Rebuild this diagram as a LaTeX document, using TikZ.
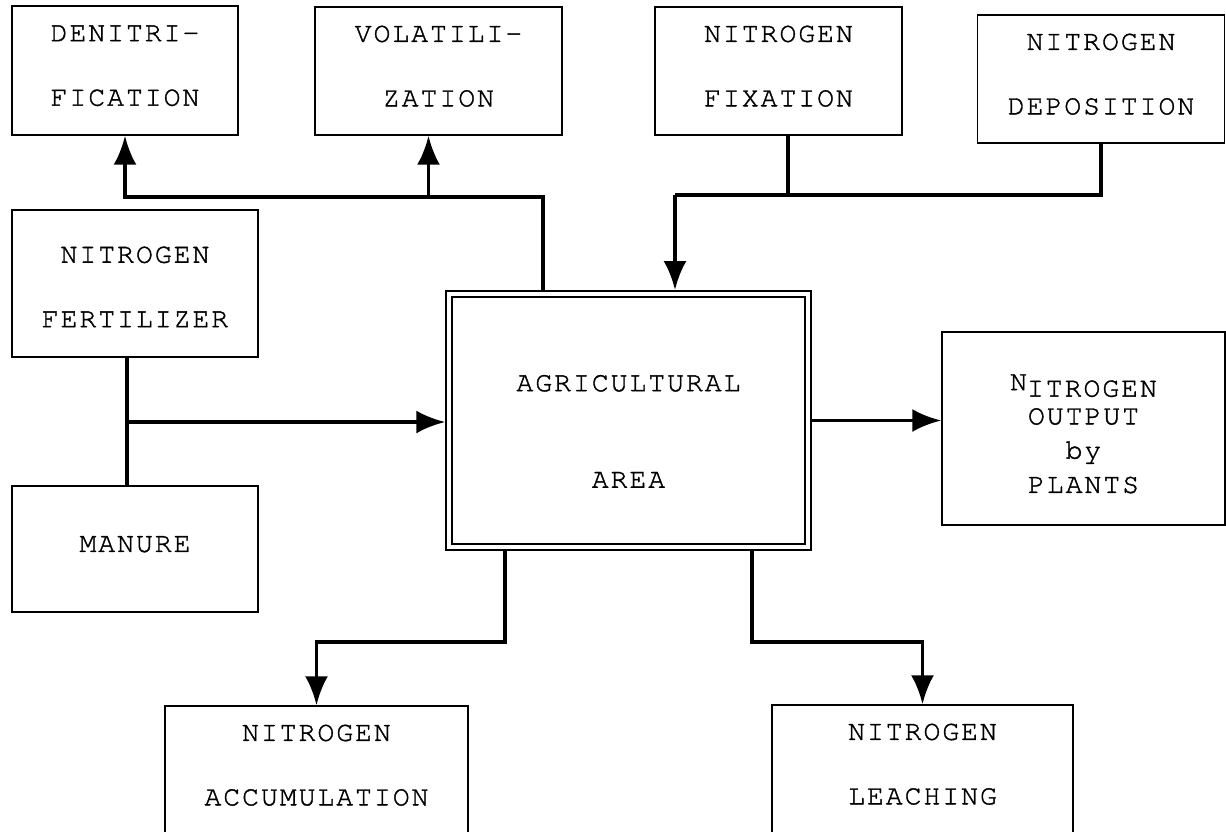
\documentclass[tikz,border=0pt]{standalone}
\usepackage{fontspec}
\newfontfamily\cursor{texgyrecursor-regular.otf}[LetterSpace=7,FakeBold=1.3]
\newcommand\tw[1]{\cursor\fontsize{16}{#1}\selectfont}
\usetikzlibrary{arrows,arrows.meta,positioning}

\begin{document}
\begin{tikzpicture}[x=0.02cm, y=-0.02cm,
        box/.style={draw, line width=0.03cm, inner sep=0pt, align=center, text depth=0.2cm,
                font=\tw{36.7}},
        link/.style={line width=0.075cm},
        flow/.style={link, -{Latex[length=0.58cm,width=0.46cm]}}]
                \useasboundingbox (0,0) rectangle (1226,831);
                % boxes along the top
                \node [box, minimum width=4.52cm, minimum height=2.58cm] (denit) at (125,70.5) {DENITRI-\\FICATION};
                \node [box, minimum width=4.94cm, minimum height=2.56cm] (volat) at (438.5,71) {VOLATILI-\\ZATION};
                \node [box, minimum width=4.94cm, minimum height=2.56cm] (fixat) at (778.5,71) {NITROGEN\\FIXATION};
                \node [box, minimum width=4.94cm, minimum height=2.56cm] (depos) at (1101,79) {NITROGEN\\DEPOSITION};
                % inputs on the left
                \node [box, minimum width=4.92cm, minimum height=2.94cm, text depth=0pt] (fert) at (135,283.5)
                        {\rule{0pt}{0.46cm}NITROGEN\\FERTILIZER};
                \node [box, minimum width=4.92cm, minimum height=2.52cm] (manure) at (135,549) {MANURE};
                % the area itself
                \node [box, double, double distance=0.09cm, outer sep=0.075cm, text depth=0pt,
                        minimum width=7.18cm, minimum height=5.07cm, font=\tw{55}] (area) at (628.5,420.5)
                        {\rule{0pt}{0.76cm}AGRICULTURAL\\AREA};
                \node [box, minimum width=5.66cm, minimum height=3.86cm, text depth=0pt,
                        font=\tw{19.5}] (output) at (1083.5,428.5)
                        {\rule{0pt}{0.52cm}N\raisebox{-0.13cm}{ITROGEN}\\OUTPUT\\by\\PLANTS};
                % losses at the bottom
                \node [box, minimum width=6.06cm, minimum height=2.56cm] (accum) at (316.5,770) {NITROGEN\\ACCUMULATION};
                \node [box, minimum width=6.02cm, minimum height=2.56cm] (leach) at (922.5,769) {NITROGEN\\LEACHING};
                % branch points
                \coordinate (topsplit) at (543,197);
                \coordinate (fixjoin) at (675,195);
                \coordinate (feed) at (127,422);
                \coordinate (accjoin) at (505,642);
                \coordinate (leajoin) at (752,642);
                \coordinate (volfoot) at ([xshift=-0.2cm]volat.south);
                \coordinate (fixfoot) at ([xshift=0.19cm]fixat.south);
                \coordinate (fertfoot) at ([xshift=-0.16cm]fert.south);
                % flows
                \draw [flow] (area.north -| topsplit) -- (topsplit) -| (denit.south);
                \draw [flow] (volfoot |- topsplit) -- (volfoot);
                \draw [link] (fixfoot) -- (fixfoot |- fixjoin);
                \draw [link] (depos.south) |- (fixjoin);
                \draw [flow] (fixjoin) -- (fixjoin |- area.north);
                \draw [link] (fertfoot) -- (fertfoot |- manure.north);
                \draw [flow] (feed) -- (feed -| area.west);
                \draw [flow] (area.east) -- (area.east -| output.west);
                \draw [flow] (area.south -| accjoin) -- (accjoin) -| (accum.north);
                \draw [flow] (area.south -| leajoin) -- (leajoin) -| (leach.north);
\end{tikzpicture}
\end{document}
